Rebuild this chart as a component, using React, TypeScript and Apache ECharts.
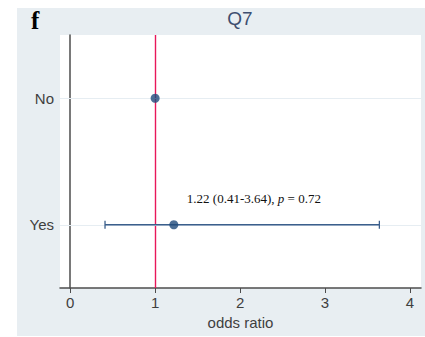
import React, { useEffect, useRef } from "react";
import * as echarts from "echarts";

const categories = ["Yes", "No"];
const categoryPos = [1, 2];
const oddsRatios = [1.22, 1.0];
const ciLow = [0.41, 1.0];
const ciHigh = [3.64, 1.0];
const xTicks = [0, 1, 2, 3, 4];
const annotation = ["1.22 (0.41-3.64), ", "p", " = 0.72"];
const title = "Q7";
const panelLetter = "f";

export default function App() {
  const ref = useRef<HTMLDivElement>(null);
  useEffect(() => {
    if (!ref.current) return;
    const chart = echarts.init(ref.current, undefined, { renderer: "svg" });
    const pointData = categories.map((c, i) => [oddsRatios[i], categoryPos[i]]);
    const ciData = categories.map((c, i) => [ciLow[i], ciHigh[i], categoryPos[i], i]);
    const axisColor = "#4d4d4d";
    const labelColor = "#3f3f3f";
    chart.setOption({
      animation: false,
      backgroundColor: "#ffffff",
      graphic: [
        { type: "rect", z: -10, shape: { x: 17, y: 8, width: 408, height: 328 }, style: { fill: "#e8eef2" } },
        {
          type: "text", x: 31, y: 8, z: 10,
          style: { text: panelLetter, font: "bold 25px 'Liberation Serif', serif", fill: "#000" },
        },
        {
          type: "text", x: 240, y: 9, z: 10,
          style: { text: title, font: "19px 'Liberation Sans', Arial, sans-serif", fill: "#3e4e70", textAlign: "center" },
        },
      ],
      grid: {
        left: 60, right: 4, top: 35, bottom: 49,
        show: true, backgroundColor: "#ffffff", borderWidth: 0,
      },
      xAxis: {
        type: "value", min: -0.12, max: 4.13,
        name: "odds ratio", nameLocation: "middle", nameGap: 26,
        nameTextStyle: { color: labelColor, fontSize: 15, fontFamily: "Liberation Sans" },
        axisLine: { show: true, lineStyle: { color: axisColor, width: 1.5 } },
        axisTick: { show: true, length: 5, customValues: xTicks, lineStyle: { color: axisColor } },
        axisLabel: { customValues: xTicks, color: labelColor, fontSize: 15, margin: 7, fontFamily: "Liberation Sans" },
        splitLine: { show: false },
      },
      yAxis: {
        type: "value", min: 0.5, max: 2.5,
        axisLine: { show: true, lineStyle: { color: axisColor, width: 1.5 } },
        axisTick: { show: true, length: 5, customValues: categoryPos, lineStyle: { color: axisColor } },
        axisLabel: {
          customValues: categoryPos, color: labelColor, fontSize: 15, margin: 6,
          fontFamily: "Liberation Sans",
          formatter: (v: number) => categories[categoryPos.indexOf(Math.round(v))] ?? "",
        },
        splitLine: { show: false },
      },
      series: [
        {
          type: "custom",
          z: 3,
          data: ciData,
          renderItem: (params: any, api: any) => {
            const lo = api.coord([api.value(0), api.value(2)]);
            const hi = api.coord([api.value(1), api.value(2)]);
            const idx = api.value(3);
            const children: any[] = [];
            const style = { stroke: "#3b5f8c", lineWidth: 1.3 };
            if (hi[0] - lo[0] > 1) {
              children.push({ type: "line", shape: { x1: lo[0], y1: lo[1], x2: hi[0], y2: hi[1] }, style });
              children.push({ type: "line", shape: { x1: lo[0], y1: lo[1] - 4, x2: lo[0], y2: lo[1] + 4 }, style });
              children.push({ type: "line", shape: { x1: hi[0], y1: hi[1] - 4, x2: hi[0], y2: hi[1] + 4 }, style });
            }
            if (idx === 0) {
              const p = api.coord([oddsRatios[idx], categoryPos[idx]]);
              children.push({
                type: "text",
                x: p[0] + 13,
                y: p[1] - 26,
                style: {
                  text: `{a|${annotation[0]}}{i|${annotation[1]}}{a|${annotation[2]}}`,
                  rich: {
                    a: { fontFamily: "Liberation Serif", fontSize: 13, fill: "#111" },
                    i: { fontFamily: "Liberation Serif", fontSize: 13, fontStyle: "italic", fill: "#111" },
                  },
                  textAlign: "left",
                  textVerticalAlign: "middle",
                },
              });
            }
            return { type: "group", children };
          },
        },
        {
          type: "scatter",
          z: 4,
          data: pointData,
          symbol: "circle",
          symbolSize: 9,
          itemStyle: { color: "#1f4a7a" },
          markLine: {
            silent: true,
            symbol: "none",
            label: { show: false },
            data: [
              { xAxis: 1, lineStyle: { color: "#e8175a", width: 1.4, type: "solid", opacity: 1 } },
              ...categoryPos.map((v) => ({ yAxis: v, lineStyle: { color: "#e6edf2", width: 1, type: "solid", opacity: 1 } })),
            ],
            z: 1,
          },
        },
      ],
    });
    return () => chart.dispose();
  }, []);
  return (
    <div
      ref={ref}
      style={{ position: "fixed", left: 0, top: 0, width: 425, height: 337 }}
    />
  );
}
